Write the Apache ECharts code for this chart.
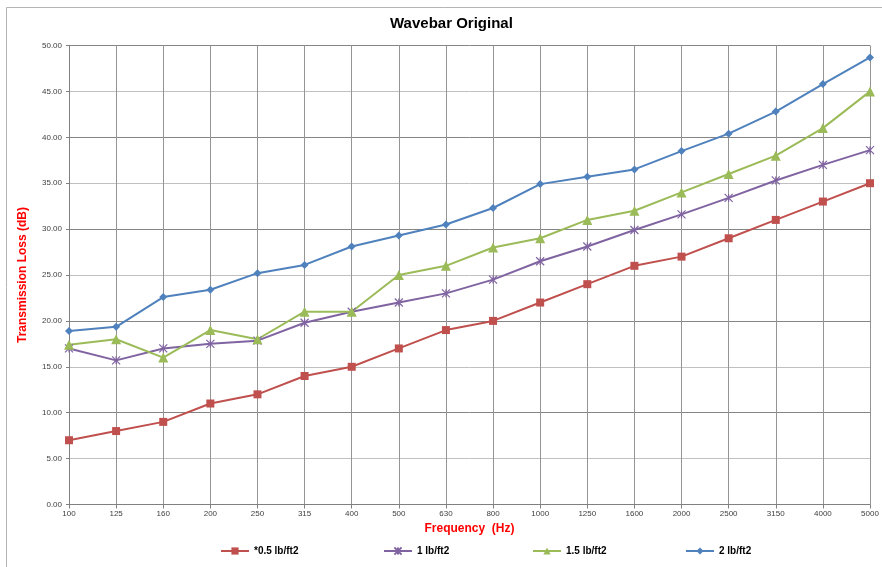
<!DOCTYPE html>
<html>
<head>
<meta charset="utf-8">
<script src="https://cdn.jsdelivr.net/npm/echarts@6/dist/echarts.min.js"></script>
<style>html,body{margin:0;padding:0;background:#fff;}#chart{width:882px;height:567px;}</style>
</head>
<body>
<div id="chart"></div>
<script>
const categories = ['100','125','160','200','250','315','400','500','630','800','1000','1250','1600','2000','2500','3150','4000','5000'];
const s05 = [7, 8, 9, 11, 12, 14, 15, 17, 19, 20, 22, 24, 26, 27, 29, 31, 33, 35];
const s1  = [17, 15.7, 17, 17.5, 17.85, 19.8, 21, 22, 23, 24.5, 26.5, 28.1, 29.9, 31.6, 33.4, 35.3, 37, 38.6];
const s15 = [17.4, 18, 16, 19, 18, 21, 21, 25, 26, 28, 29, 31, 32, 34, 36, 38, 41, 45];
const s2  = [18.9, 19.35, 22.6, 23.4, 25.2, 26.1, 28.1, 29.3, 30.5, 32.3, 34.9, 35.7, 36.5, 38.5, 40.4, 42.8, 45.8, 48.7];
const names = ['*0.5 lb/ft2', '1 lb/ft2', '1.5 lb/ft2', '2 lb/ft2'];
const yTicks = { min: 0, max: 50, interval: 5 };

const chart = echarts.init(document.getElementById('chart'), null, {renderer: 'canvas'});
const FONT = 'Liberation Sans';
const legendText = {fontFamily: FONT, fontSize: 10, fontWeight: 'bold', color: '#000'};
function legendAt(name, left) {
  return {data: [name], left: left, top: 541, itemWidth: 28, itemHeight: 9, itemGap: 5, textStyle: legendText, selectedMode: false};
}
const crossPath = 'path://M0,0L10,10M10,0L0,10M5,0L5,10';
function mk(name, data, color, symbol, size, extra) {
  return Object.assign({
    name: name, type: 'line', data: data,
    symbol: symbol, symbolSize: size, showAllSymbol: true,
    lineStyle: {color: color, width: 2},
    itemStyle: {color: color},
    emphasis: {disabled: true},
    animation: false
  }, extra || {});
}
chart.setOption({
  animation: false,
  backgroundColor: '#fff',
  title: {
    text: 'Wavebar Original', left: 385, top: 11,
    textStyle: {fontFamily: FONT, fontSize: 15, fontWeight: 'bold', color: '#000'}
  },
  graphic: [{
    type: 'rect', shape: {x: 6.5, y: 7.5, width: 1000, height: 1000},
    style: {fill: 'none', stroke: '#b4b4b4', lineWidth: 1}, silent: true, z: -1
  }],
  legend: [
    legendAt(names[0], 215),
    legendAt(names[1], 378),
    legendAt(names[2], 527),
    legendAt(names[3], 680)
  ],
  grid: {left: 69, right: 12, top: 45.5, bottom: 62.5, containLabel: false},
  xAxis: {
    type: 'category', data: categories, boundaryGap: false,
    name: 'Frequency  (Hz)', nameLocation: 'middle', nameGap: 16,
    nameTextStyle: {fontFamily: FONT, fontSize: 12, fontWeight: 'bold', color: '#ff0000'},
    axisLine: {lineStyle: {color: '#808080', width: 1}},
    axisTick: {show: true, interval: 0, length: 4, alignWithLabel: true, lineStyle: {color: '#808080'}},
    axisLabel: {interval: 0, fontFamily: FONT, fontSize: 8, color: '#404040', margin: 5},
    splitLine: {show: true, interval: 0, lineStyle: {color: '#949494', width: 1}}
  },
  yAxis: {
    type: 'value', min: yTicks.min, max: yTicks.max, interval: yTicks.interval,
    name: 'Transmission Loss (dB)', nameLocation: 'middle', nameGap: 40,
    nameTextStyle: {fontFamily: FONT, fontSize: 12, fontWeight: 'bold', color: '#ff0000'},
    axisLine: {show: true, lineStyle: {color: '#808080', width: 1}},
    axisTick: {show: true, length: 3, lineStyle: {color: '#808080'}},
    axisLabel: {fontFamily: FONT, fontSize: 8, color: '#404040', margin: 7, formatter: v => v.toFixed(2)},
    splitLine: {show: true, lineStyle: {color: ['#858585', '#c0c0c0'], width: 1}}
  },
  series: [
    mk(names[0], s05, '#c0504d', 'rect', 8),
    mk(names[1], s1, '#8064a2', crossPath, 8, {itemStyle: {color: '#8064a2', borderColor: '#8064a2', borderWidth: 1.2}}),
    mk(names[2], s15, '#9bbb59', 'triangle', 10),
    mk(names[3], s2, '#4f81bd', 'diamond', 8)
  ]
});
</script>
</body>
</html>
